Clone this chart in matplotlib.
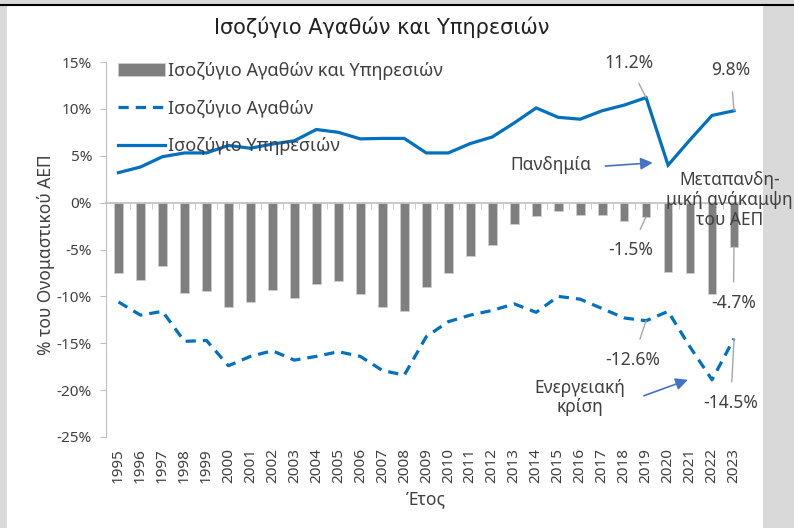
import matplotlib
matplotlib.use("Agg")
import matplotlib.pyplot as plt
import matplotlib.patches as mpatches
import matplotlib.lines as mlines

plt.rcParams['font.family'] = ['Noto Sans', 'DejaVu Sans']

years = list(range(1995, 2024))
balance_total = [-7.5, -8.3, -6.8, -9.6, -9.4, -11.1, -10.6, -9.3, -10.2, -8.7,
                 -8.4, -9.7, -11.1, -11.6, -9.0, -7.5, -5.7, -4.5, -2.3, -1.4,
                 -0.9, -1.3, -1.3, -2.0, -1.5, -7.4, -7.5, -9.7, -4.7]
balance_goods = [-10.6, -12.0, -11.6, -14.8, -14.7, -17.4, -16.4, -15.8, -16.8, -16.4,
                 -15.9, -16.4, -17.9, -18.4, -14.3, -12.7, -12.0, -11.5, -10.8, -11.7,
                 -10.0, -10.3, -11.3, -12.3, -12.6, -11.6, -15.4, -18.9, -14.5]
balance_services = [3.2, 3.8, 4.9, 5.3, 5.3, 6.1, 5.8, 6.25, 6.6, 7.8,
                    7.5, 6.8, 6.85, 6.85, 5.3, 5.3, 6.3, 7.0, 8.5, 10.1,
                    9.1, 8.9, 9.8, 10.4, 11.2, 4.0, 6.7, 9.3, 9.8]

title = "Ισοζύγιο Αγαθών και Υπηρεσιών"
label_total = "Ισοζύγιο Αγαθών και Υπηρεσιών"
label_goods = "Ισοζύγιο Αγαθών"
label_services = "Ισοζύγιο Υπηρεσιών"
ylabel = "% του Ονομαστικού ΑΕΠ"
xlabel = "Έτος"
yticks = [-25, -20, -15, -10, -5, 0, 5, 10, 15]

BLUE = '#0070C0'
ARROW = '#4472C4'
BAR = '#7f7f7f'
TXT = '#404040'
LEAD = '#a6a6a6'

fig = plt.figure(figsize=(7.94, 5.28), dpi=100, facecolor='#d9d9d9')
W, H = 794, 528

bg = fig.add_axes([0, 0, 1, 1], zorder=-5)
bg.set_axis_off()
bg.set_xlim(0, 1)
bg.set_ylim(0, 1)
bg.add_patch(mpatches.Rectangle((7 / W, 0), (763 - 7) / W, (H - 6) / H,
                                facecolor='white', edgecolor='none'))
bg.add_line(mlines.Line2D([0, 1], [1 - 4.5 / H, 1 - 4.5 / H], color='black', lw=1.5))

ax = fig.add_axes([106 / W, 1 - 437 / H, (745 - 106) / W, (437 - 62) / H])
ax.set_facecolor('none')

bars = ax.bar(years, balance_total, width=0.4, color=BAR, edgecolor='#d0d0d0', linewidth=0.5,
              label=label_total, zorder=2)
lg, = ax.plot(years, balance_goods, color=BLUE, lw=2.3, linestyle=(0, (3.2, 2.2)),
              label=label_goods, zorder=3)
ls, = ax.plot(years, balance_services, color=BLUE, lw=2.3, label=label_services, zorder=3,
              solid_joinstyle='miter')

for s in ['right', 'bottom']:
    ax.spines[s].set_visible(False)
ax.spines['left'].set_color('#bfbfbf')
ax.spines['top'].set_position(('data', 0))
ax.spines['top'].set_color('#bfbfbf')
ax.spines['top'].set_linewidth(1.2)

ax.set_xlim(1994.43, 2023.5)
ax.set_ylim(-25, 15)
ax.set_yticks(yticks)
ax.set_yticklabels([f"{v}%" for v in yticks], fontsize=11, color=TXT)
ax.set_xticks(years)
ax.set_xticklabels([str(y) for y in years], fontsize=11, color=TXT)
ax.set_xticks([y + 0.5 for y in years[:-1]], minor=True)
ax.tick_params(axis='x', which='major', length=0, pad=8, labelrotation=90,
               top=False, labeltop=False, bottom=True, labelbottom=True)
ax.tick_params(axis='x', which='minor', top=True, bottom=False, direction='in',
               length=4, color='#bfbfbf')
ax.tick_params(axis='y', which='major', length=4, color='#bfbfbf', pad=6)

ax.set_ylabel(ylabel, fontsize=12.5, color=TXT)
ax.yaxis.set_label_coords(-0.08, 0.485)
ax.set_xlabel(xlabel, fontsize=12.5, color=TXT, labelpad=5)

fig.text(382 / W, 1 - 27 / H, title, ha='center', va='center', fontsize=15,
         color='#222222', family=['Liberation Sans Narrow', 'DejaVu Sans'])

ax.legend(handles=[bars, lg, ls], loc='upper left', bbox_to_anchor=(0.005, 1.025),
          frameon=False, fontsize=13, labelspacing=1.1, handlelength=2.6,
          handletextpad=0.15, borderpad=0, labelcolor=TXT)

def lead(text, xy, xytext):
    ax.annotate(text, xy=xy, xytext=xytext, ha='center', va='center', fontsize=12.5,
                color=TXT, zorder=5,
                arrowprops=dict(arrowstyle='-', color=LEAD, lw=1, shrinkA=7, shrinkB=0))

i19 = years.index(2019)
i23 = years.index(2023)
lead("11.2%", (2019, balance_services[i19]), (2018.2, 14.9))
lead("9.8%", (2023, balance_services[i23]), (2022.85, 14.1))
lead("-1.5%", (2019, balance_total[i19]), (2018.3, -5.05))
lead("-4.7%", (2023, balance_total[i23]), (2022.97, -10.75))
lead("-12.6%", (2019, balance_goods[i19]), (2018.4, -16.8))
lead("-14.5%", (2023, balance_goods[i23]), (2022.85, -21.4))

ax.text(2014.65, 4.0, "Πανδημία", ha='center', va='center', fontsize=12.5, color=TXT)
ax.annotate('', xy=(2019.3, 4.25), xytext=(2017.15, 3.9),
            arrowprops=dict(arrowstyle='-|>', color=ARROW, lw=1.2, mutation_scale=18,
                            shrinkA=0, shrinkB=0))
ax.text(2022.8, 0.3, "Μεταπανδη-\nμική ανάκαμψη\nτου ΑΕΠ", ha='center', va='center',
        fontsize=12.5, color=TXT, linespacing=1.15, clip_on=False)
ax.text(2016.0, -20.8, "Ενεργειακή\nκρίση", ha='center', va='center', fontsize=12.5,
        color=TXT, linespacing=1.1)
ax.annotate('', xy=(2020.9, -18.9), xytext=(2018.9, -20.6),
            arrowprops=dict(arrowstyle='-|>', color=ARROW, lw=1.2, mutation_scale=18,
                            shrinkA=0, shrinkB=0))

fig.savefig('out.png', dpi=100, facecolor=fig.get_facecolor())
